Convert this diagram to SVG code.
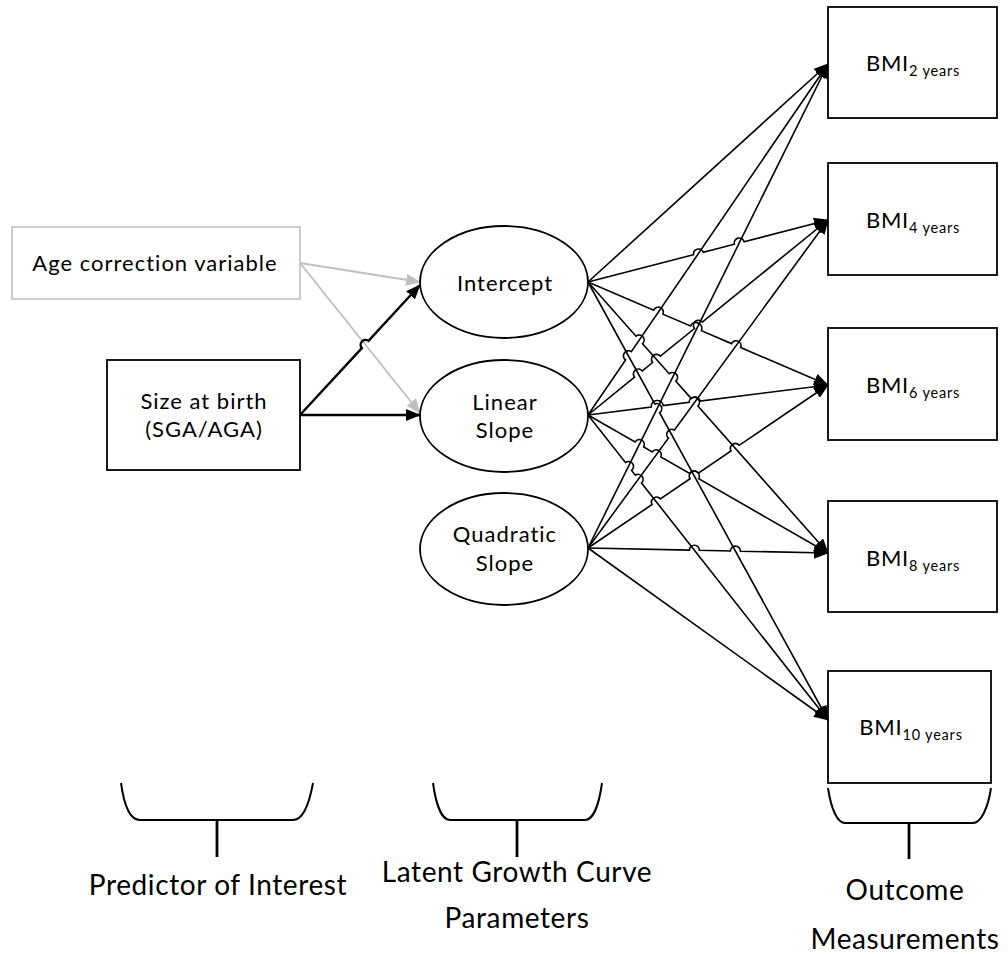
<svg xmlns="http://www.w3.org/2000/svg" width="1008" height="954" viewBox="0 0 1008 954">
<defs>
<marker id="ah" markerWidth="15" markerHeight="12" refX="14" refY="6" orient="auto" markerUnits="userSpaceOnUse"><path d="M0,0 L15,6 L0,12 z" fill="#000"/></marker>
<marker id="ahg" markerWidth="15" markerHeight="12" refX="14" refY="6" orient="auto" markerUnits="userSpaceOnUse"><path d="M0,0 L15,6 L0,12 z" fill="#bfbfbf"/></marker>
<style>
text{font-family:Lato,"Liberation Sans",sans-serif;fill:#000}
.box{fill:#fff;stroke:#000;stroke-width:1.8}
.gbox{fill:#fff;stroke:#c8c8c8;stroke-width:1.8}
.ell{fill:#fff;stroke:#000;stroke-width:1.8}
.t{font-size:22px;letter-spacing:1px;text-anchor:middle}
.bmi{font-size:22px;letter-spacing:0.8px;text-anchor:middle}
.sub{font-size:14.5px}
.lab{font-size:28px;letter-spacing:0.6px;text-anchor:middle}
.fan path{fill:none;stroke:#000;stroke-width:1.6;marker-end:url(#ah)}
.blk{fill:none;stroke:#000;stroke-width:2.4;marker-end:url(#ah)}
.gry{fill:none;stroke:#bfbfbf;stroke-width:1.8;marker-end:url(#ahg)}
.br{fill:none;stroke:#000;stroke-width:2}
.stem{fill:none;stroke:#000;stroke-width:2.8}
</style>
</defs>
<rect width="1008" height="954" fill="#fff"/>

<g id="connectors">
<path class="gry" d="M300,263 L420,282"/>
<path class="gry" d="M300,263 L420,413"/>
<path class="blk" d="M300,415 L361.8,348.1 A5,5 0 0 1 368.5,340.8 L420,285"/>
<path class="blk" d="M300,415 L420,415"/>
<g class="fan">
<path d="M588,282 L828,64"/>
<path d="M588,282 L693.6,254.7 A5,5 0 0 1 703.2,252.2 L734.4,244.2 A5,5 0 0 1 744.1,241.7 L828,220"/>
<path d="M588,282 L653.7,310.2 A5,5 0 0 1 662.9,314.2 L690.5,326.0 A5.9,5.9 0 0 1 701.4,330.7 L731.5,343.6 A5,5 0 0 1 740.7,347.5 L828,385"/>
<path d="M588,282 L636.0,336.2 A5,5 0 0 1 642.6,343.7 L669.2,373.7 A5,5 0 0 1 675.9,381.2 L691.3,398.6 A5,5 0 0 1 697.9,406.1 L828,553"/>
<path d="M588,282 L654.8,404.0 A5,5 0 0 1 659.6,412.7 L828,720"/>
<path d="M588,415 L625.6,360.0 A5,5 0 0 1 631.3,351.7 L828,64"/>
<path d="M588,415 L634.5,377.2 A5,5 0 0 1 642.3,370.9 L652.6,362.5 A5,5 0 0 1 660.4,356.2 L694.5,328.5 A5,5 0 0 1 702.3,322.1 L828,220"/>
<path d="M588,415 L651.2,407.1 A6.1,6.1 0 0 1 663.3,405.6 L689.1,402.4 A5.6,5.6 0 0 1 700.1,401.0 L828,385"/>
<path d="M588,415 L635.0,442.0 A5,5 0 0 1 643.7,447.0 L652.2,451.9 A5,5 0 0 1 660.8,456.9 L689.7,473.5 A5.2,5.2 0 0 1 698.7,478.7 L828,553"/>
<path d="M588,415 L625.4,462.5 A5,5 0 0 1 631.6,470.4 L635.3,475.2 A5,5 0 0 1 641.5,483.0 L828,720"/>
<path d="M588,548 L828,64"/>
<path d="M588,548 L668.4,438.1 A5,5 0 0 1 674.3,430.1 L828,220"/>
<path d="M588,548 L652.1,504.5 A5,5 0 0 1 660.3,498.9 L690.1,478.7 A5,5 0 0 1 698.4,473.1 L731.0,450.9 A5,5 0 0 1 739.2,445.3 L828,385"/>
<path d="M588,548 L689.4,550.1 A5,5 0 0 1 699.4,550.3 L730.4,551.0 A5,5 0 0 1 740.4,551.2 L828,553"/>
<path d="M588,548 L828,720"/>
</g>
</g>

<g id="age">
<rect class="gbox" x="12" y="227" width="288" height="72"/>
<text class="t" x="155" y="271">Age correction variable</text>
</g>
<g id="size">
<rect class="box" x="107" y="360" width="193" height="110"/>
<text class="t" x="204" y="409">Size at birth</text>
<text class="t" x="204" y="437">(SGA/AGA)</text>
</g>

<g id="intercept">
<ellipse class="ell" cx="504" cy="282" rx="84" ry="56"/>
<text class="t" x="505" y="291">Intercept</text>
</g>
<g id="linear">
<ellipse class="ell" cx="504" cy="416" rx="84" ry="56"/>
<text class="t" x="505" y="410">Linear</text>
<text class="t" x="505" y="438">Slope</text>
</g>
<g id="quadratic">
<ellipse class="ell" cx="504" cy="549" rx="84" ry="56"/>
<text class="t" x="505" y="542">Quadratic</text>
<text class="t" x="505" y="571">Slope</text>
</g>

<g id="bmi2">
<rect class="box" x="828" y="7" width="169" height="111"/>
<text class="bmi" x="913" y="71">BMI<tspan class="sub" dy="5">2 years</tspan></text>
</g>
<g id="bmi4">
<rect class="box" x="828" y="163" width="169" height="112"/>
<text class="bmi" x="913" y="228">BMI<tspan class="sub" dy="5">4 years</tspan></text>
</g>
<g id="bmi6">
<rect class="box" x="828" y="328" width="169" height="112"/>
<text class="bmi" x="913" y="393">BMI<tspan class="sub" dy="5">6 years</tspan></text>
</g>
<g id="bmi8">
<rect class="box" x="828" y="501" width="169" height="111"/>
<text class="bmi" x="913" y="566">BMI<tspan class="sub" dy="5">8 years</tspan></text>
</g>
<g id="bmi10">
<rect class="box" x="828" y="671" width="163" height="112"/>
<text class="bmi" x="911" y="735">BMI<tspan class="sub" dy="5">10 years</tspan></text>
</g>

<g id="bracket-predictor">
<path class="br" d="M121,783 C124,805 130,820 140,820 L293,820 C303,820 309,805 313,783"/>
<path class="stem" d="M217,820 L217,857"/>
<text class="lab" x="218" y="895">Predictor of Interest</text>
</g>
<g id="bracket-latent">
<path class="br" d="M433,783 C436,805 442,820 450,820 L585,820 C593,820 599,805 602,783"/>
<path class="stem" d="M517,820 L517,857"/>
<text class="lab" x="517" y="882">Latent Growth Curve</text>
<text class="lab" x="517" y="928">Parameters</text>
</g>
<g id="bracket-outcome">
<path class="br" d="M828,788 C831,808 837,823 845,823 L973,823 C981,823 988,808 991,788"/>
<path class="stem" d="M909,823 L909,859"/>
<text class="lab" x="905" y="900">Outcome</text>
<text class="lab" x="905" y="949">Measurements</text>
</g>
</svg>
